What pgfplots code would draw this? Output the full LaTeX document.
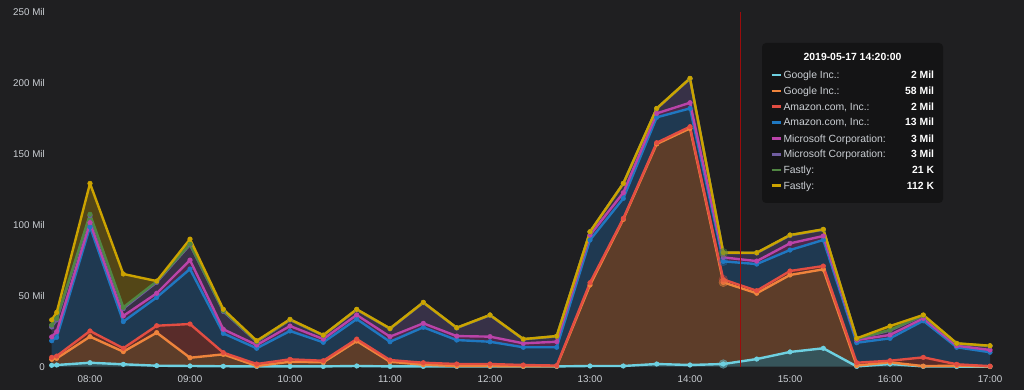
\documentclass[border=0pt]{standalone}
\usepackage{fontspec}
\setmainfont{Liberation Sans}
\usepackage{pgfplots}
\pgfplotsset{compat=1.18}
\usepackage{pgfplotstable}
\usepgfplotslibrary{fillbetween}

\definecolor{bgc}{HTML}{1F1F21}
\definecolor{gridc}{HTML}{3A3A3D}
\definecolor{tickc}{HTML}{CBCFD4}
\definecolor{tipbg}{HTML}{141415}
\definecolor{cyanG}{HTML}{6ED0E0}
\definecolor{orangeG}{HTML}{EF843C}
\definecolor{redG}{HTML}{E24D42}
\definecolor{blueG}{HTML}{1F78C1}
\definecolor{magentaG}{HTML}{BA43A9}
\definecolor{purpleG}{HTML}{705DA0}
\definecolor{greenG}{HTML}{508642}
\definecolor{yellowG}{HTML}{CCA300}
\definecolor{vline}{HTML}{9A0C0C}

% stacked tops (cumulative values, Mil)
\pgfplotstableread{
t c o r b m p g y z
7.617 1.0 5.2 6.6 18.3 21.0 28.0 29.4 33.0 0
7.667 1.2 5.9 7.5 20.7 24.7 33.0 34.0 38.3 0
8.000 2.8 21.2 25.2 98.7 101.6 106.5 107.5 129.3 0
8.333 1.7 10.6 13.0 31.8 35.8 41.0 41.9 65.4 0
8.667 0.7 24.0 28.9 48.9 51.8 59.5 60.2 60.4 0
9.000 0.5 6.3 30.1 68.9 75.2 86.0 86.5 90.0 0
9.333 0.3 8.7 9.9 23.5 26.4 39.0 39.5 40.5 0
9.667 0.2 0.5 1.9 13.0 15.3 17.5 17.8 18.3 0
10.000 0.2 3.5 5.2 25.2 28.7 33.0 33.2 33.4 0
10.333 0.2 3.1 4.2 17.2 19.5 22.0 22.2 22.3 0
10.667 0.5 18.1 19.5 33.6 36.5 40.2 40.4 40.5 0
11.000 0.2 3.5 4.7 17.6 21.2 26.7 26.9 27.0 0
11.333 0.2 1.4 2.8 27.8 30.6 45.2 45.3 45.4 0
11.667 0.2 0.5 1.9 18.8 21.6 27.3 27.4 27.5 0
12.000 0.2 0.5 1.9 17.6 21.2 36.3 36.4 36.5 0
12.333 0.2 0.3 1.2 13.7 16.5 19.3 19.4 19.5 0
12.667 0.2 0.4 0.8 13.7 17.6 21.4 21.5 21.6 0
13.000 0.5 57.6 59.2 89.4 92.9 95.0 95.1 95.2 0
13.333 0.5 103.9 104.6 118.7 122.7 129.1 129.2 129.3 0
13.667 1.9 157.1 158.0 175.9 178.7 182.0 182.1 182.2 0
14.000 1.2 168.1 169.3 182.2 186.2 203.2 203.3 203.4 0
14.333 1.9 59.5 61.5 74.3 77.1 80.3 80.32 80.43 0
14.667 5.4 51.8 53.6 72.4 74.5 80.2 80.3 80.4 0
15.000 10.4 64.7 67.5 82.3 87.0 92.6 92.8 92.9 0
15.333 13.0 68.7 71.0 89.4 92.2 96.7 96.8 96.9 0
15.667 0.2 0.8 2.8 16.9 18.8 19.6 19.8 20.0 0
16.000 1.9 3.1 4.2 20.0 22.4 25.5 25.9 28.7 0
16.333 0.2 0.4 6.6 32.4 34.1 36.0 36.2 36.5 0
16.667 0.1 0.7 1.7 13.7 14.8 16.2 16.4 16.5 0
17.000 0.1 0.2 0.4 10.2 11.8 14.5 14.7 14.8 0
}\data

\begin{document}
\begin{tikzpicture}
\fill[bgc] (0,0) rectangle (1024pt,390pt);
\begin{axis}[
  at={(50pt,23.3pt)}, anchor=south west,
  scale only axis, width=958pt, height=354.4pt,
  xmin=7.6, xmax=17.18, ymin=0, ymax=250,
  axis line style={draw=none}, major tick length=0pt,
  xtick={8,...,17},
  xticklabels={08:00,09:00,10:00,11:00,12:00,13:00,14:00,15:00,16:00,17:00},
  ytick={0,50,...,250},
  yticklabels={0,50 Mil,100 Mil,150 Mil,200 Mil,250 Mil},
  grid=major, grid style={color=gridc, line width=0.7pt},
  tick label style={font=\fontsize{9.8}{11}\selectfont, text=tickc},
  yticklabel style={anchor=east, inner sep=0pt, xshift=-5pt},
  xticklabel style={anchor=north, inner sep=0pt, yshift=-9pt},
  /pgf/number format/assume math mode=true,
  clip=false,
  every axis plot/.append style={line join=round},
  /tikz/fill between/on layer=main,
]
% invisible paths
\addplot[draw=none, name path=z] table[x=t,y=z] {\data};
\addplot[draw=none, name path=c] table[x=t,y=c] {\data};
\addplot[draw=none, name path=o] table[x=t,y=o] {\data};
\addplot[draw=none, name path=r] table[x=t,y=r] {\data};
\addplot[draw=none, name path=b] table[x=t,y=b] {\data};
\addplot[draw=none, name path=m] table[x=t,y=m] {\data};
\addplot[draw=none, name path=p] table[x=t,y=p] {\data};
\addplot[draw=none, name path=g] table[x=t,y=g] {\data};
\addplot[draw=none, name path=y] table[x=t,y=y] {\data};
% fills
\addplot[fill=cyanG, fill opacity=0.3] fill between[of=c and z];
\addplot[fill=orangeG, fill opacity=0.3] fill between[of=o and c];
\addplot[fill=redG, fill opacity=0.3] fill between[of=r and o];
\addplot[fill=blueG, fill opacity=0.3] fill between[of=b and r];
\addplot[fill=magentaG, fill opacity=0.3] fill between[of=m and b];
\addplot[fill=purpleG, fill opacity=0.3] fill between[of=p and m];
\addplot[fill=greenG, fill opacity=0.3] fill between[of=g and p];
\addplot[fill=yellowG, fill opacity=0.3] fill between[of=y and g];
% lines
\pgfplotsset{ln/.style={color=#1, line width=2.4pt, mark=*, mark size=2.3pt, mark options={solid,fill=#1,line width=0.5pt}}}
\addplot[ln=cyanG] table[x=t,y=c] {\data};
\addplot[ln=orangeG] table[x=t,y=o] {\data};
\addplot[ln=redG] table[x=t,y=r] {\data};
\addplot[ln=blueG] table[x=t,y=b] {\data};
\addplot[ln=magentaG] table[x=t,y=m] {\data};
\addplot[ln=purpleG] table[x=t,y=p] {\data};
\addplot[ln=greenG] table[x=t,y=g] {\data};
\addplot[ln=yellowG] table[x=t,y=y] {\data};
% hover halos at 14:20
\addplot[only marks, mark=*, mark size=4.4pt, color=cyanG, opacity=0.45] coordinates {(14.333,1.9)};
\addplot[only marks, mark=*, mark size=4.4pt, color=orangeG, opacity=0.45] coordinates {(14.333,59.5)};
\addplot[only marks, mark=*, mark size=4.4pt, color=redG, opacity=0.35] coordinates {(14.333,61.5)};
\addplot[only marks, mark=*, mark size=4.4pt, color=blueG, opacity=0.35] coordinates {(14.333,74.3)};
\addplot[only marks, mark=*, mark size=4.4pt, color=greenG, opacity=0.5] coordinates {(14.333,80.43)};
% crosshair
\draw[vline, line width=0.9pt] (axis cs:14.5,0) -- (axis cs:14.5,250);
\end{axis}
% tooltip
\fill[tipbg, rounded corners=4pt] (762pt,187pt) rectangle (943pt,347pt);
\node[text=white, font=\fontsize{10.4}{12}\selectfont\bfseries, inner sep=0pt] at (852.5pt,333.3pt) {2019-05-17 14:20:00};
\foreach \yy/\col/\lab/\val in {
  315/cyanG/Google Inc.:/2 Mil,
  299/orangeG/Google Inc.:/58 Mil,
  283.3/redG/{Amazon.com, Inc.:}/2 Mil,
  267.7/blueG/{Amazon.com, Inc.:}/13 Mil,
  251.3/magentaG/Microsoft Corporation:/3 Mil,
  235.7/purpleG/Microsoft Corporation:/3 Mil,
  220/greenG/Fastly:/21 K,
  204.3/yellowG/Fastly:/112 K}{
  \draw[\col, line width=2.6pt] (771.7pt,\yy pt) -- (780.7pt,\yy pt);
  \node[anchor=base west, inner sep=0pt, text=tickc, font=\fontsize{10.4}{12}\selectfont] at (783.3pt,\yy pt-3.7pt) {\lab};
  \node[anchor=base east, inner sep=0pt, text=white, font=\fontsize{10.4}{12}\selectfont\bfseries] at (934.3pt,\yy pt-3.7pt) {\val};
}
\pgfresetboundingbox
\path (0,0) rectangle (1024pt,390pt);
\end{tikzpicture}
\end{document}
